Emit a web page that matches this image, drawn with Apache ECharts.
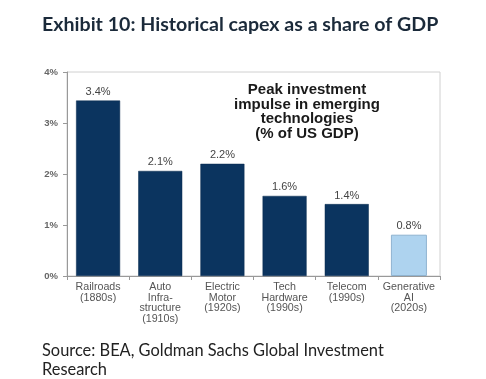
<!DOCTYPE html>
<html><head><meta charset="utf-8">
<script src="https://cdn.jsdelivr.net/npm/echarts@6/dist/echarts.min.js"></script>
<style>html,body{margin:0;padding:0;background:#fff}#c{width:486px;height:379px}</style>
</head><body><div id="c"></div>
<script>
const categories = ['Railroads\n(1880s)', 'Auto\nInfra-\nstructure\n(1910s)', 'Electric\nMotor\n(1920s)', 'Tech\nHardware\n(1990s)', 'Telecom\n(1990s)', 'Generative\nAI\n(2020s)'];
const historicalValues = [3.44, 2.06, 2.2, 1.57, 1.41, null];
const aiValues = [null, null, null, null, null, 0.81];
const yTicks = [0, 1, 2, 3, 4];

const chart = echarts.init(document.getElementById('c'));
const labelCfg = {
  show: true, position: 'top', distance: 3,
  formatter: p => p.value.toFixed(1) + '%',
  fontFamily: 'Liberation Sans', fontSize: 11, color: '#444'
};
chart.setOption({
  animation: false,
  title: {
    text: 'Exhibit 10: Historical capex as a share of GDP',
    left: 37, top: 10,
    textStyle: { fontFamily: 'Lato', fontWeight: 'bold', fontSize: 19.6, color: '#1b2a3a' }
  },
  grid: { left: 67, right: 46, top: 72, bottom: 103, show: true, borderColor: '#d0d0d0', borderWidth: 1 },
  xAxis: [{
    type: 'category', data: categories,
    axisLine: { lineStyle: { color: '#999' } },
    axisTick: { show: true, length: 4, lineStyle: { color: '#999' } },
    axisLabel: { interval: 0, fontFamily: 'Liberation Sans', fontSize: 10.7, color: '#555', lineHeight: 10.5, margin: 6 }
  }, {
    type: 'category', data: categories, show: false
  }],
  yAxis: {
    type: 'value', min: yTicks[0], max: yTicks[yTicks.length - 1], interval: 1,
    axisLine: { show: true, lineStyle: { color: '#999' } },
    axisTick: { show: true, length: 4, lineStyle: { color: '#999' } },
    splitLine: { show: false },
    axisLabel: { formatter: v => v + '%', fontFamily: 'Liberation Sans', fontSize: 9.5, fontWeight: 'bold', color: '#666', margin: 9 }
  },
  series: [{
    type: 'bar', data: historicalValues, xAxisIndex: 0, barWidth: 44,
    itemStyle: { color: '#0b345f', borderColor: '#092b4f', borderWidth: 0.5 },
    label: labelCfg
  }, {
    type: 'bar', data: aiValues, xAxisIndex: 1, barWidth: 36,
    itemStyle: { color: '#aed3ef', borderColor: '#8fb3d0', borderWidth: 1 },
    label: labelCfg
  }],
  graphic: [{
    type: 'text',
    style: {
      text: 'Peak investment\nimpulse in emerging\ntechnologies\n(% of US GDP)',
      x: 0, y: 0, align: 'center',
      font: 'bold 15px "Liberation Sans"', lineHeight: 14.4, fill: '#1a1a1a'
    },
    position: [307, 83]
  }, {
    type: 'text', left: 42, top: 341,
    style: {
      text: 'Source: BEA, Goldman Sachs Global Investment\nResearch',
      font: '16.4px Lato', lineHeight: 19, fill: '#222'
    }
  }]
});
</script></body></html>
